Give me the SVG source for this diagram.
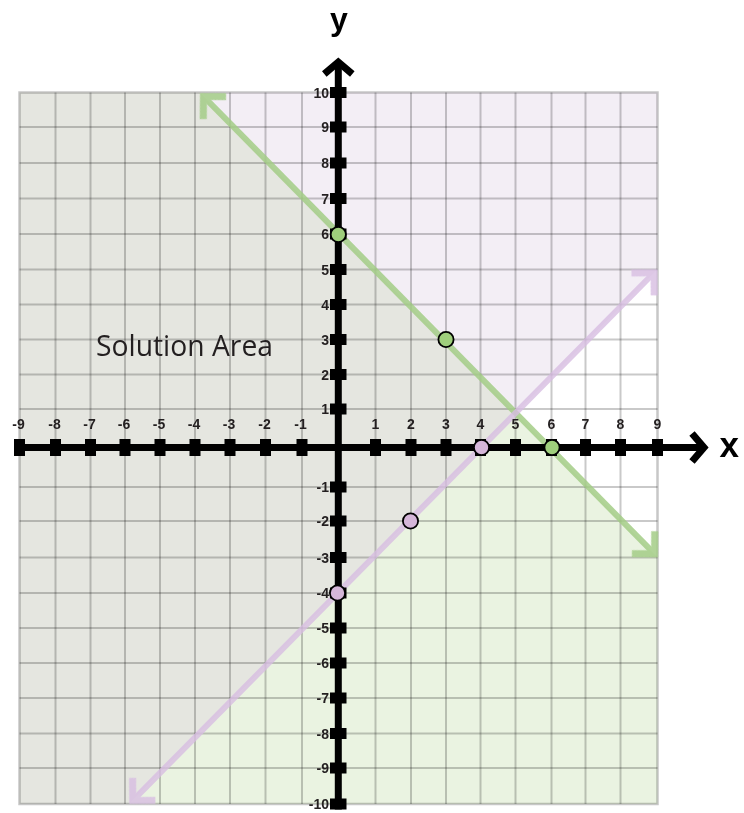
<svg xmlns="http://www.w3.org/2000/svg" width="744" height="813" viewBox="0 0 744 813">
<style>
.grid{fill:none;stroke:#000;stroke-opacity:0.21;stroke-width:2}
.axis{fill:none;stroke:#000;stroke-width:7}
.tick{fill:#000}
.xl{font-family:"Liberation Sans",Arial,sans-serif;font-weight:bold;font-size:14px;fill:#231f20;text-anchor:middle}
.yl{font-family:"Liberation Sans",Arial,sans-serif;font-weight:bold;font-size:14px;fill:#231f20;text-anchor:end}
.big{font-family:"Liberation Sans",Arial,sans-serif;font-weight:bold;fill:#000}
.gpt{fill:#9fcf7c;stroke:#000;stroke-width:1.8}
.ppt{fill:#d5b6d9;stroke:#000;stroke-width:1.8}
</style>
<defs>
<polygon id="ah" points="0,0 -18.4,-18.4 -23.35,-13.45 -9.9,0 -23.35,13.45 -18.4,18.4"/>
</defs>
<g id="regions">
<polygon points="19.5,92.5 200,92.5 515.6,412.9 129.3,804 19.5,804" fill="#e5e6e0"/>
<polygon points="200,92.5 657.5,92.5 657.5,269.3 515.6,412.9" fill="#f3eef5"/>
<polygon points="515.6,412.9 657.5,557.3 657.5,804 129.3,804" fill="#eaf3e1"/>
</g>
<g id="grid">
<path class="grid" d="M55.5 92.5V804M90.5 92.5V804M125 92.5V804M160 92.5V804M195 92.5V804M230 92.5V804M265.5 92.5V804M302 92.5V804M375.5 92.5V804M411 92.5V804M446 92.5V804M480.5 92.5V804M515.5 92.5V804M551.5 92.5V804M585.5 92.5V804M620.5 92.5V804"/>
<path class="grid" d="M19.5 127H657.5M19.5 163H657.5M19.5 198.5H657.5M19.5 234H657.5M19.5 269.5H657.5M19.5 304.5H657.5M19.5 339.5H657.5M19.5 374.5H657.5M19.5 409H657.5M19.5 487H657.5M19.5 521H657.5M19.5 557.5H657.5M19.5 593H657.5M19.5 628H657.5M19.5 663H657.5M19.5 698H657.5M19.5 733.5H657.5M19.5 768H657.5"/>
<rect x="19.5" y="92.5" width="638" height="711.5" fill="none" stroke="#000" stroke-opacity="0.22" stroke-width="2.5"/>
</g>
<g id="connectors">
<g id="line-green" opacity="0.85" fill="#a3cd86">
<line x1="203.2" y1="96.2" x2="654.8" y2="554.1" stroke="#a3cd86" stroke-width="6"/>
<use href="#ah" transform="translate(200,93) rotate(-134.61)"/>
<use href="#ah" transform="translate(658,557.3) rotate(45.39)"/>
</g>
<g id="line-purple" opacity="0.8" fill="#d7bde2">
<line x1="132.5" y1="800.8" x2="654.3" y2="272.5" stroke="#d7bde2" stroke-width="6"/>
<use href="#ah" transform="translate(657.5,269.3) rotate(-45.35)"/>
<use href="#ah" transform="translate(129.3,804) rotate(134.65)"/>
</g>
</g>
<g id="axes">
<line class="axis" x1="14" y1="447.5" x2="703" y2="447.5"/>
<polyline class="axis" stroke-miterlimit="10" points="692,433.5 704,447.5 692,461.5"/>
<line class="axis" x1="338.3" y1="63" x2="338.3" y2="809.5"/>
<polyline class="axis" stroke-miterlimit="10" points="324.3,74 338.3,62 352.3,74"/>
<g id="xticks" class="tick">
<rect x="14" y="439" width="11" height="17"/>
<rect x="50" y="439" width="11" height="17"/>
<rect x="85" y="439" width="11" height="17"/>
<rect x="119.5" y="439" width="11" height="17"/>
<rect x="154.5" y="439" width="11" height="17"/>
<rect x="189.5" y="439" width="11" height="17"/>
<rect x="224.5" y="439" width="11" height="17"/>
<rect x="260" y="439" width="11" height="17"/>
<rect x="296.5" y="439" width="11" height="17"/>
<rect x="370" y="439" width="11" height="17"/>
<rect x="405.5" y="439" width="11" height="17"/>
<rect x="440.5" y="439" width="11" height="17"/>
<rect x="475" y="439" width="11" height="17"/>
<rect x="510" y="439" width="11" height="17"/>
<rect x="546" y="439" width="11" height="17"/>
<rect x="580" y="439" width="11" height="17"/>
<rect x="615" y="439" width="11" height="17"/>
<rect x="652" y="439" width="11" height="17"/>
</g>
<g id="yticks" class="tick">
<rect x="330" y="87" width="16.5" height="11"/>
<rect x="330" y="121.5" width="16.5" height="11"/>
<rect x="330" y="157.5" width="16.5" height="11"/>
<rect x="330" y="193" width="16.5" height="11"/>
<rect x="330" y="228.5" width="16.5" height="11"/>
<rect x="330" y="264" width="16.5" height="11"/>
<rect x="330" y="299" width="16.5" height="11"/>
<rect x="330" y="334" width="16.5" height="11"/>
<rect x="330" y="369" width="16.5" height="11"/>
<rect x="330" y="403.5" width="16.5" height="11"/>
<rect x="330" y="481.5" width="16.5" height="11"/>
<rect x="330" y="515.5" width="16.5" height="11"/>
<rect x="330" y="552" width="16.5" height="11"/>
<rect x="330" y="587.5" width="16.5" height="11"/>
<rect x="330" y="622.5" width="16.5" height="11"/>
<rect x="330" y="657.5" width="16.5" height="11"/>
<rect x="330" y="692.5" width="16.5" height="11"/>
<rect x="330" y="728" width="16.5" height="11"/>
<rect x="330" y="762.5" width="16.5" height="11"/>
<rect x="330" y="798.5" width="16.5" height="11"/>
</g>
</g>
<g id="xlabels">
<text class="xl" x="18.5" y="429">-9</text>
<text class="xl" x="54.5" y="429">-8</text>
<text class="xl" x="89.5" y="429">-7</text>
<text class="xl" x="124" y="429">-6</text>
<text class="xl" x="159" y="429">-5</text>
<text class="xl" x="194" y="429">-4</text>
<text class="xl" x="229" y="429">-3</text>
<text class="xl" x="264.5" y="429">-2</text>
<text class="xl" x="300.5" y="429">-1</text>
<text class="xl" x="375.5" y="429">1</text>
<text class="xl" x="411" y="429">2</text>
<text class="xl" x="446" y="429">3</text>
<text class="xl" x="480.5" y="429">4</text>
<text class="xl" x="515.5" y="429">5</text>
<text class="xl" x="551.5" y="429">6</text>
<text class="xl" x="585.5" y="429">7</text>
<text class="xl" x="620.5" y="429">8</text>
<text class="xl" x="657.5" y="429">9</text>
</g>
<g id="ylabels">
<text class="yl" x="329" y="97.5">10</text>
<text class="yl" x="329" y="132">9</text>
<text class="yl" x="329" y="168">8</text>
<text class="yl" x="329" y="203.5">7</text>
<text class="yl" x="329" y="239">6</text>
<text class="yl" x="329" y="274.5">5</text>
<text class="yl" x="329" y="309.5">4</text>
<text class="yl" x="329" y="344.5">3</text>
<text class="yl" x="329" y="379.5">2</text>
<text class="yl" x="329" y="414">1</text>
<text class="yl" x="329" y="492">-1</text>
<text class="yl" x="329" y="526">-2</text>
<text class="yl" x="329" y="562.5">-3</text>
<text class="yl" x="329" y="598">-4</text>
<text class="yl" x="329" y="633">-5</text>
<text class="yl" x="329" y="668">-6</text>
<text class="yl" x="329" y="703">-7</text>
<text class="yl" x="329" y="738.5">-8</text>
<text class="yl" x="329" y="773">-9</text>
<text class="yl" x="329" y="809">-10</text>
</g>
<g id="axis-titles">
<text class="big" x="339" y="29.5" font-size="32" text-anchor="middle">y</text>
<text class="big" x="719.5" y="456.5" font-size="35">x</text>
</g>
<g id="points">
<circle id="g1" class="gpt" cx="338.3" cy="234.5" r="7.6"/>
<circle id="g2" class="gpt" cx="446" cy="339.5" r="7.6"/>
<circle id="g3" class="gpt" cx="552" cy="447.5" r="7.6"/>
<circle id="p1" class="ppt" cx="481.5" cy="447.5" r="7.6"/>
<circle id="p2" class="ppt" cx="410.5" cy="521" r="7.6"/>
<circle id="p3" class="ppt" cx="337.5" cy="593" r="7.6"/>
</g>
<text id="solution" x="96" y="356" font-family="'Open Sans','Noto Sans',sans-serif" font-size="29" fill="#231f20" textLength="177" lengthAdjust="spacingAndGlyphs">Solution Area</text>
</svg>
